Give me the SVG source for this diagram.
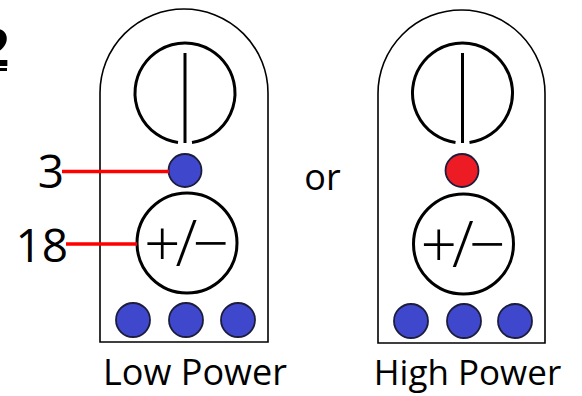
<svg xmlns="http://www.w3.org/2000/svg" width="582" height="396" viewBox="0 0 582 396">
<style>
.body{fill:#fff;stroke:#000;stroke-width:1.6}
.ring{fill:none;stroke:#000;stroke-width:3}
.led{stroke:#1c1c3c;stroke-width:1.8}
.blue{fill:#3f48cc}
.red{fill:#ed1c24}
.lead{stroke:#f00;stroke-width:3.5;fill:none}
.lbl{font-family:"Open Sans","Liberation Sans",sans-serif;fill:#000}
.sym{font-family:"Open Sans","Liberation Sans",sans-serif;font-size:64px;font-weight:300;fill:#000;text-anchor:middle;letter-spacing:-5px}
</style>
<rect width="582" height="396" fill="#fff"/>
<g id="title">
<text x="-20" y="66" style="font-family:'Liberation Sans',sans-serif;font-weight:bold;font-size:53px">2</text>
<line x1="-25" y1="69.5" x2="7" y2="69.5" stroke="#000" stroke-width="3"/>
</g>
<g id="low-power">
<path class="body" d="M100,342 V93 A84,84 0 0 1 268,93 V342 Z"/>
<path class="ring" d="M178,142.5 A50,50 0 1 1 192,142.5"/>
<line x1="185" y1="53" x2="185" y2="143" stroke="#000" stroke-width="3"/>
<circle class="led blue" cx="185" cy="170.5" r="16.5"/>
<circle class="ring" cx="187" cy="243" r="50"/>
<text class="sym" x="184" y="266">+/−</text>
<circle class="led blue" cx="133" cy="320" r="17"/>
<circle class="led blue" cx="186" cy="320" r="17"/>
<circle class="led blue" cx="238" cy="320" r="17"/>
<text class="lbl" x="195" y="385" font-size="36" text-anchor="middle">Low Power</text>
</g>
<g id="high-power">
<path class="body" d="M378,343 V93.5 A83.5,83.5 0 0 1 545,93.5 V343 Z"/>
<path class="ring" d="M455.5,142.5 A50,50 0 1 1 469.5,142.5"/>
<line x1="462.5" y1="53" x2="462.5" y2="143" stroke="#000" stroke-width="3"/>
<circle class="led red" cx="462" cy="170.5" r="16.5"/>
<circle class="ring" cx="463.5" cy="244" r="50"/>
<text class="sym" x="460.5" y="267">+/−</text>
<circle class="led blue" cx="411" cy="321" r="17"/>
<circle class="led blue" cx="464" cy="321" r="17"/>
<circle class="led blue" cx="515" cy="321" r="17"/>
<text class="lbl" x="467.5" y="385" font-size="35" text-anchor="middle">High Power</text>
</g>
<g id="or-label">
<text class="lbl" x="322.5" y="190" font-size="36" text-anchor="middle">or</text>
</g>
<g id="callout-3">
<text class="lbl" x="64" y="188" font-size="46" text-anchor="end">3</text>
</g>
<g id="callout-18">
<text class="lbl" x="68" y="262" font-size="46" text-anchor="end">18</text>
</g>
<g id="connectors">
<line class="lead" x1="62" y1="171.5" x2="169" y2="171.5"/>
<line class="lead" x1="66" y1="244" x2="137" y2="244"/>
</g>
</svg>
